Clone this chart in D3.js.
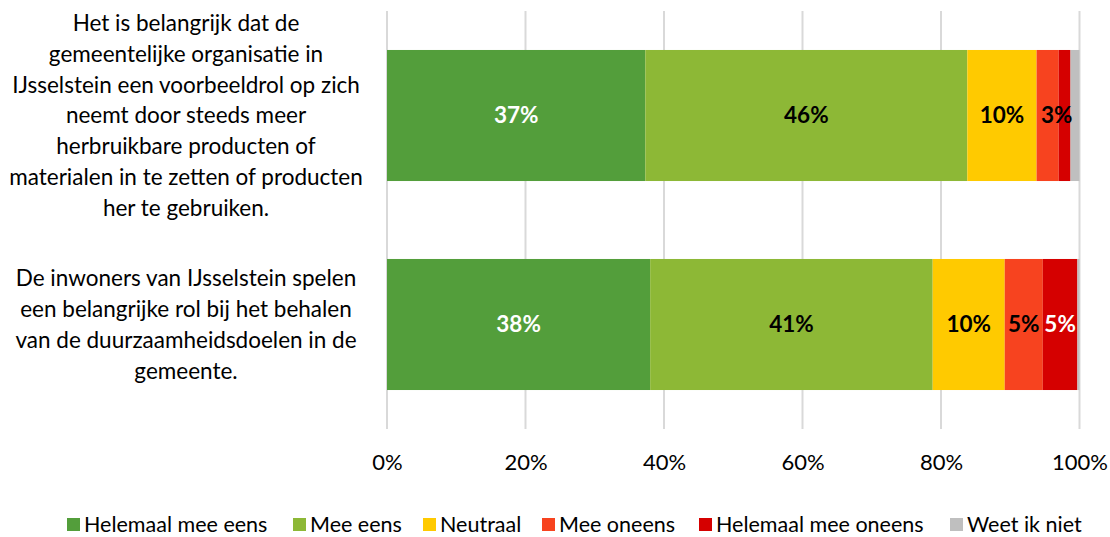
<!DOCTYPE html>
<html>
<head>
<meta charset="utf-8">
<script src="https://cdn.jsdelivr.net/npm/d3@7"></script>
<style>
  body { margin: 0; background: #fff; }
  text { font-family: Lato, "Open Sans", sans-serif; }
</style>
</head>
<body>
<div id="chart"></div>
<script>
// categories, top to bottom
let categories = [
  ['Het is belangrijk dat de', 'gemeentelijke organisatie in', 'IJsselstein een voorbeeldrol op zich',
   'neemt door steeds meer', 'herbruikbare producten of', 'materialen in te zetten of producten', 'her te gebruiken.'],
  ['De inwoners van IJsselstein spelen', 'een belangrijke rol bij het behalen',
   'van de duurzaamheidsdoelen in de', 'gemeente.']
];
let seriesNames = ['Helemaal mee eens', 'Mee eens', 'Neutraal', 'Mee oneens', 'Helemaal mee oneens', 'Weet ik niet'];
let seriesColors = ['#539E3B', '#8DB836', '#FFCA00', '#F7431F', '#D50000', '#BFBFBF'];
let labelColors = ['#fff', '#000', '#000', '#000', '#fff', '#000'];
// percentages per category (same order as seriesNames)
let values1 = [37.3, 46.5, 10.0, 3.2, 1.7, 1.3];
let values2 = [38.0, 40.8, 10.4, 5.5, 5.0, 0.3];
// labels shown in the bars ('' = no label)
let labels1 = ['37%', '46%', '10%', '3%', '', ''];
let labels2 = ['38%', '41%', '10%', '5%', '5%', ''];
let tickValues = [0, 20, 40, 60, 80, 100];

let width = 1110, height = 537;
let rows = [
  { lines: categories[0], values: values1, labels: labels1 },
  { lines: categories[1], values: values2, labels: labels2 }
];

let svg = d3.select('#chart').append('svg')
  .attr('width', width).attr('height', height);

let x = d3.scaleLinear().domain([0, 100]).range([387, 1079.5]);
let y = d3.scaleBand().domain(d3.range(rows.length)).range([11, 429])
  .paddingInner(0.373).paddingOuter(0.1865);

// gridlines
svg.append('g').selectAll('line').data(tickValues).enter().append('line')
  .attr('x1', d => x(d)).attr('x2', d => x(d))
  .attr('y1', 11).attr('y2', 429)
  .attr('stroke', '#D9D9D9').attr('stroke-width', 2);

// bars
rows.forEach(function(r, i) {
  let segs = [];
  let acc = 0;
  r.values.forEach(function(v, j) {
    segs.push({ x0: acc, x1: acc + v, j: j, label: r.labels[j] });
    acc += v;
  });
  let g = svg.append('g');
  g.selectAll('rect').data(segs).enter().append('rect')
    .attr('x', d => x(d.x0))
    .attr('width', d => x(d.x1) - x(d.x0))
    .attr('y', y(i))
    .attr('height', y.bandwidth())
    .attr('fill', d => seriesColors[d.j]);
  g.selectAll('text').data(segs.filter(d => d.label)).enter().append('text')
    .attr('x', d => (x(d.x0) + x(d.x1)) / 2 + (d.j === 3 && i === 0 ? 9 : 0))
    .attr('y', y(i) + y.bandwidth() / 2)
    .attr('dy', '0.35em')
    .attr('text-anchor', 'middle')
    .attr('font-size', 22.5).attr('font-weight', 'bold')
    .attr('fill', d => labelColors[d.j])
    .text(d => d.label);

  // category text
  let lh = 30.8;
  let cy = y(i) + y.bandwidth() / 2;
  let t = svg.append('text').attr('text-anchor', 'middle')
    .attr('font-size', 22.5).attr('fill', '#000');
  r.lines.forEach(function(line, k) {
    t.append('tspan').attr('x', 186)
      .attr('y', cy + (k - (r.lines.length - 1) / 2) * lh)
      .attr('dy', '0.35em')
      .text(line);
  });
});

// x axis labels
let xAxis = svg.append('g')
  .attr('transform', 'translate(0,454)')
  .call(d3.axisBottom(x).tickValues(tickValues).tickFormat(d => d + '%').tickSize(0).tickPadding(0));
xAxis.select('.domain').remove();
xAxis.selectAll('text').attr('font-size', 22).attr('fill', '#000')
  .style('font-family', 'Lato, "Open Sans", sans-serif');

// legend
let legendX = [67, 293, 423, 542, 699, 950];
let legend = svg.append('g');
seriesNames.forEach(function(name, j) {
  let lg = legend.append('g').attr('transform', 'translate(' + legendX[j] + ',524)');
  lg.append('rect').attr('x', 0).attr('y', -6).attr('width', 13).attr('height', 13)
    .attr('fill', seriesColors[j]);
  lg.append('text').attr('x', 17).attr('y', 0).attr('dy', '0.35em')
    .attr('font-size', 21.5).attr('fill', '#000').text(name);
});
</script>
</body>
</html>
